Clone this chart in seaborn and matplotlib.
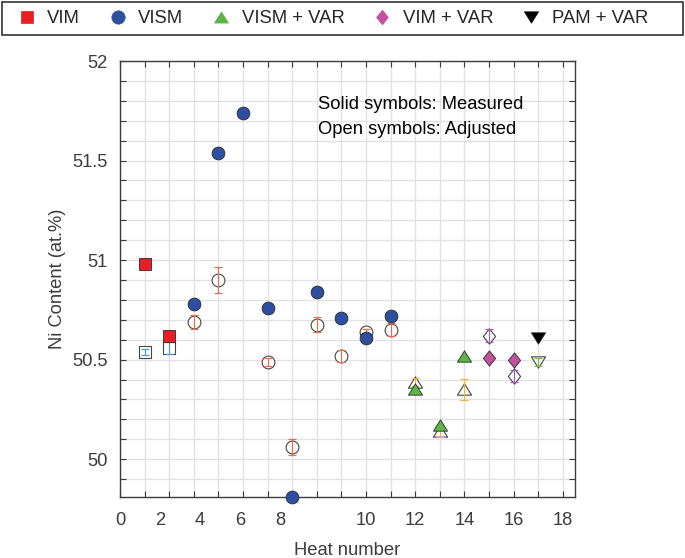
import numpy as np
import pandas as pd
import matplotlib
matplotlib.use("Agg")
import matplotlib.pyplot as plt
import seaborn as sns
from matplotlib.lines import Line2D
from matplotlib.patches import Rectangle
from matplotlib.path import Path

# ---------------- data ----------------
processes = ["VIM", "VISM", "VISM + VAR", "VIM + VAR", "PAM + VAR"]

measured_heat = [1, 2, 3, 4, 5, 6, 7, 8, 9, 10, 11, 12, 13, 14, 15, 16, 17]
measured_ni = [50.98, 50.62, 50.78, 51.54, 51.74, 50.76, 49.81, 50.84, 50.71,
               50.61, 50.72, 50.35, 50.17, 50.52, 50.51, 50.50, 50.61]
measured_proc = ["VIM", "VIM", "VISM", "VISM", "VISM", "VISM", "VISM", "VISM",
                 "VISM", "VISM", "VISM", "VISM + VAR", "VISM + VAR", "VISM + VAR",
                 "VIM + VAR", "VIM + VAR", "PAM + VAR"]

adjusted_heat = [1, 2, 3, 4, 6, 7, 8, 9, 10, 11, 12, 13, 14, 15, 16, 17]
adjusted_ni = [50.54, 50.56, 50.69, 50.90, 50.49, 50.06, 50.675, 50.52, 50.64,
               50.65, 50.39, 50.14, 50.35, 50.62, 50.42, 50.49]
adjusted_err = [0.015, 0.03, 0.035, 0.065, 0.02, 0.04, 0.038, 0.03, 0.015,
                0.032, 0.02, 0.03, 0.055, 0.033, 0.03, 0.02]
adjusted_proc = ["VIM", "VIM", "VISM", "VISM", "VISM", "VISM", "VISM", "VISM",
                 "VISM", "VISM", "VISM + VAR", "VISM + VAR", "VISM + VAR",
                 "VIM + VAR", "VIM + VAR", "PAM + VAR"]

xtick_labels = ["0", "2", "4", "6", "8", "10", "12", "14", "16", "18"]
xtick_label_pos = [0, 1.63, 3.25, 4.88, 6.5, 10, 12, 14, 16, 18]
ytick_values = [50, 50.5, 51, 51.5, 52]
ytick_labels = ["50", "50.5", "51", "51.5", "52"]

measured = pd.DataFrame({"heat": measured_heat, "ni": measured_ni, "process": measured_proc})
adjusted = pd.DataFrame({"heat": adjusted_heat, "ni": adjusted_ni, "err": adjusted_err,
                         "process": adjusted_proc})

# ---------------- styles ----------------
tri_up = Path([(-1, -0.8), (1, -0.8), (0, 0.8), (-1, -0.8)], closed=True)
tri_dn = Path([(-1, 0.8), (1, 0.8), (0, -0.8), (-1, 0.8)], closed=True)
diamond = Path([(0, 1), (0.8, 0), (0, -1), (-0.8, 0), (0, 1)], closed=True)

fill_colors = {"VIM": "#ec1c24", "VISM": "#2e4f9f", "VISM + VAR": "#5cb646",
               "VIM + VAR": "#c1509f", "PAM + VAR": "#000000"}
err_colors = {"VIM": "#4f9cd0", "VISM": "#e0734c", "VISM + VAR": "#f0b632",
              "VIM + VAR": "#a561b8", "PAM + VAR": "#86b94a"}
markers = {"VIM": "s", "VISM": "o", "VISM + VAR": tri_up, "VIM + VAR": diamond,
           "PAM + VAR": tri_dn}
msize = {"VIM": 8.2, "VISM": 9.2, "VISM + VAR": 10.2, "VIM + VAR": 11.0, "PAM + VAR": 10.2}
lsize = {"VIM": 8.6, "VISM": 9.6, "VISM + VAR": 10.0, "VIM + VAR": 10.6, "PAM + VAR": 10.2}

sns.set_theme(style="white")
plt.rcParams["font.family"] = ["Liberation Sans", "DejaVu Sans"]

fig = plt.figure(figsize=(6.85, 5.58), dpi=100)
ax = fig.add_axes([120 / 685, 61 / 558, 455 / 685, 436 / 558])

axis_col = "#3c3c3c"
fs = 13.2

# open (adjusted) symbols first
for p in processes:
    sub = adjusted[adjusted["process"] == p]
    if len(sub) == 0:
        continue
    sns.scatterplot(data=sub, x="heat", y="ni", ax=ax, marker=markers[p],
                    s=msize[p] ** 2, color="white", edgecolor="#444444",
                    linewidth=0.8, zorder=3, legend=False)
    ax.errorbar(sub["heat"], sub["ni"], yerr=sub["err"], fmt="none",
                ecolor=err_colors[p], elinewidth=0.9, capsize=3, capthick=0.9,
                zorder=4)

# solid (measured) symbols on top
for p in processes:
    sub = measured[measured["process"] == p]
    sns.scatterplot(data=sub, x="heat", y="ni", ax=ax, marker=markers[p],
                    s=msize[p] ** 2, color=fill_colors[p], edgecolor="#2a2a2a",
                    linewidth=0.6, zorder=5, clip_on=False, legend=False)

# ---------------- axes ----------------
ax.set_xlim(0, 18.5)
ax.set_ylim(49.81, 52.0)

ax.xaxis.remove_overlapping_locs = False
ax.set_xticks(np.arange(0, 19, 1))
ax.set_xticklabels([])
ax.set_xticks(xtick_label_pos, minor=True)
ax.set_xticklabels(xtick_labels, minor=True)
ax.tick_params(axis="x", which="minor", length=0, pad=11, labelsize=fs,
               labelcolor=axis_col, top=False)
ax.tick_params(axis="x", which="major", direction="in", length=4, width=0.8,
               color=axis_col, top=True, bottom=True)

ax.set_yticks(ytick_values)
ax.set_yticklabels(ytick_labels)
ax.set_yticks(np.arange(49.9, 52.0, 0.1), minor=True)
ax.tick_params(axis="y", which="both", direction="in", length=4, width=0.8,
               color=axis_col, left=True, right=True)
ax.tick_params(axis="y", which="major", pad=9, labelsize=fs, labelcolor=axis_col)

ax.grid(True, axis="x", which="major", color="#e2e2e2", linewidth=1.0)
ax.grid(True, axis="y", which="both", color="#e2e2e2", linewidth=1.0)
ax.set_axisbelow(True)

for s in ax.spines.values():
    s.set_color(axis_col)
    s.set_linewidth(1.0)

ax.set_xlabel("Heat number", fontsize=fs, color=axis_col, labelpad=9)
ax.set_ylabel("Ni Content (at.%)", fontsize=fs, color=axis_col, labelpad=4)

ax.text(0.435, 0.89, "Solid symbols: Measured", transform=ax.transAxes,
        fontsize=fs, color="black", va="baseline", ha="left")
ax.text(0.435, 0.832, "Open symbols: Adjusted", transform=ax.transAxes,
        fontsize=fs, color="black", va="baseline", ha="left")

# ---------------- legend ----------------
handles = [Line2D([], [], linestyle="none", marker=markers[p],
                  markersize=lsize[p], markerfacecolor=fill_colors[p],
                  markeredgecolor=fill_colors[p], markeredgewidth=0.5)
           for p in processes]
fig.legend(handles, processes, loc="center left",
           bbox_to_anchor=(17.75 / 685, 1 - 18.5 / 558),
           ncol=5, frameon=False, fontsize=13.3, handlelength=1.0,
           handletextpad=0.6, columnspacing=1.55, borderpad=0, borderaxespad=0)
fig.add_artist(Rectangle((2 / 685, 1 - 35 / 558), 681 / 685, 33 / 558,
                         transform=fig.transFigure, fill=False,
                         edgecolor="#333333", linewidth=1.2))

fig.savefig("out.png", dpi=100)
